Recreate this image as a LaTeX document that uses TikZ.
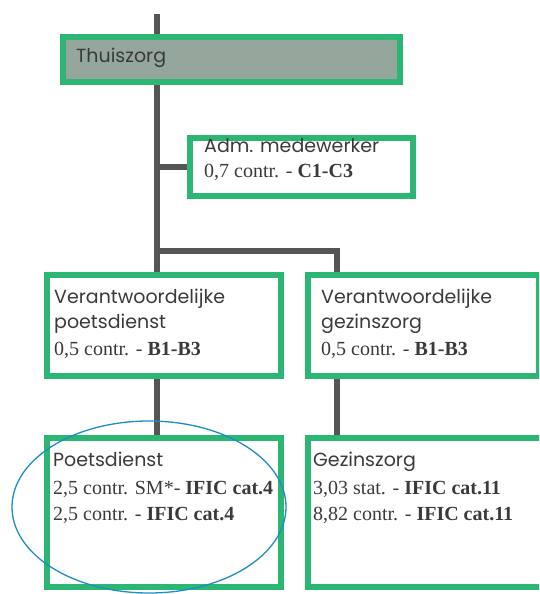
\documentclass[tikz,border=0pt]{standalone}
\usepackage{fontspec}
\setmainfont{Liberation Serif}
\newfontfamily\titlefont{Poppins}
\usetikzlibrary{backgrounds}
\definecolor{boxgreen}{HTML}{2BB673}
\definecolor{boxgray}{HTML}{95A69C}
\definecolor{linkgray}{HTML}{555555}
\definecolor{textgray}{HTML}{3A3A3A}
\definecolor{markblue}{HTML}{1B8EC2}
\tikzstyle{Block} = [draw=boxgreen, line width=6pt, rectangle, inner sep=0pt, anchor=north west]
\tikzstyle{Label} = [anchor=base west, align=left, inner sep=0pt, text=textgray, font=\titlefont\fontsize{19}{25}\selectfont]
\tikzstyle{Link} = [draw=linkgray, line width=6pt]
\newcommand{\grade}[1]{{\rmfamily\fontsize{20}{26}\selectfont #1}}

\begin{document}
\begin{tikzpicture}[x=1pt, y=-1pt]
    \useasboundingbox (0,0) rectangle (539,594);
    \clip (0,0) rectangle (539,594);
    \node[Block, fill=boxgray, minimum width=337pt, minimum height=45pt] (thuis) at (60,34) {};
    \node[Block, minimum width=223pt, minimum height=58pt]  (adm) at (187,135)      {};
    \node[Block, minimum width=234pt, minimum height=101pt] (verpoets) at (44,272)  {};
    \node[Block, minimum width=231pt, minimum height=101pt] (vergezin) at (305,272) {};
    \node[Block, minimum width=234pt, minimum height=149pt] (poets) at (44,435)     {};
    \node[Block, minimum width=260pt, minimum height=149pt] (gezin) at (305,435)    {};
    % labels sit on the baseline of their last line
    \node[Label] (thuistext) at (76,63)     {Thuiszorg};
    \node[Label] (admtext) at (204,177)     {Adm. medewerker\\\grade{0,7 contr. - \textbf{C1-C3}}};
    \node[Label] (verpoetstext) at (54,355) {Verantwoordelijke\\poetsdienst\\[2pt]\grade{0,5 contr. - \textbf{B1-B3}}};
    \node[Label] (vergezintext) at (321,355) {Verantwoordelijke\\gezinszorg\\[2pt]\grade{0,5 contr. - \textbf{B1-B3}}};
    \node[Label] (poetstext) at (53,520)    {Poetsdienst\\[3pt]\grade{2,5 contr. SM*- \textbf{IFIC cat.4}}\\[1pt]\grade{2,5 contr. - \textbf{IFIC cat.4}}};
    \node[Label] (gezintext) at (313,520)   {Gezinszorg\\[3pt]\grade{3,03 stat. - \textbf{IFIC cat.11}}\\[1pt]\grade{8,82 contr. - \textbf{IFIC cat.11}}};
    \coordinate (top) at (157,14);
    \coordinate (split) at (157,251);
    \coordinate (rjoin) at (337,251);
    \begin{pgfonlayer}{background}
    \draw[Link] (top) -- (top |- thuis.north);
    \draw[Link] (top |- thuis.south) -- (top |- verpoets.north);
    \draw[Link] (top |- adm.west) -- (adm.west);
    \draw[Link] (split) -- (rjoin) -- (rjoin |- vergezin.north);
    \draw[Link] (top |- verpoets.south) -- (top |- poets.north);
    \draw[Link] (rjoin |- vergezin.south) -- (rjoin |- gezin.north);
    \end{pgfonlayer}
    \draw[markblue, line width=1.3pt] (149,507) ellipse [x radius=137, y radius=86];
\end{tikzpicture}
\end{document}
